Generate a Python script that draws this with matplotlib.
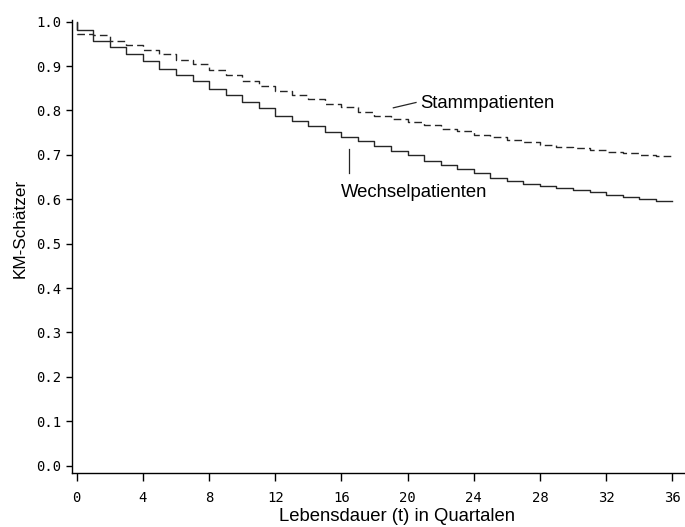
import matplotlib
matplotlib.use('Agg')
import matplotlib.pyplot as plt
import numpy as np

# Kaplan-Meier Schaetzer je Quartal (Stufen ab t = 0 .. 35)
quartale = np.arange(0, 37)
wechsel = [0.981, 0.957, 0.942, 0.927, 0.912, 0.894, 0.881, 0.866, 0.849, 0.834,
           0.818, 0.805, 0.788, 0.777, 0.766, 0.752, 0.741, 0.731, 0.721, 0.709,
           0.700, 0.687, 0.677, 0.668, 0.659, 0.649, 0.641, 0.635, 0.630, 0.626,
           0.621, 0.616, 0.610, 0.606, 0.601, 0.597]
stamm = [0.973, 0.969, 0.956, 0.948, 0.936, 0.927, 0.913, 0.905, 0.891, 0.881,
         0.867, 0.855, 0.844, 0.835, 0.825, 0.815, 0.807, 0.797, 0.788, 0.780,
         0.775, 0.767, 0.758, 0.754, 0.745, 0.740, 0.734, 0.730, 0.722, 0.718,
         0.715, 0.711, 0.706, 0.704, 0.700, 0.698]
xticks = np.arange(0, 37, 4)
yticks = np.round(np.arange(0, 1.01, 0.1), 1)

label_font = ['Liberation Sans', 'DejaVu Sans']
tick_font = 'DejaVu Sans Mono'


def km_stufen(werte):
    # Startpunkt 1.0 bei t=0, letzte Stufe bis t=36 fortsetzen
    x = np.concatenate([[0], quartale])
    y = np.concatenate([[1.0], werte, [werte[-1]]])
    return x, y


fig = plt.figure(figsize=(6.85, 5.27), dpi=100)
ax = fig.add_axes([72 / 685, 1 - 472.7 / 527, 1 - 72 / 685, (472.7 - 20) / 527])

x, y = km_stufen(stamm)
ax.step(x, y, where='post', color='#262626', lw=1.0, dashes=(5.5, 3))
x, y = km_stufen(wechsel)
ax.step(x, y, where='post', color='#262626', lw=1.0)

ax.set_xlim(-0.284, 36.77)
ax.set_ylim(-0.0158, 1.0038)

for side in ['top', 'right']:
    ax.spines[side].set_visible(False)
for side in ['left', 'bottom']:
    ax.spines[side].set_linewidth(1.0)

ax.set_xticks(xticks)
ax.set_xticklabels([str(t) for t in xticks], fontfamily=tick_font, fontsize=10)
ax.set_yticks(yticks)
ax.set_yticklabels(['%.1f' % v for v in yticks], fontfamily=tick_font, fontsize=10)
ax.tick_params(axis='x', length=6, width=1.0, pad=7.5)
ax.tick_params(axis='y', length=4.2, width=1.0, pad=3.2)

# Kurvenbeschriftungen
ax.plot([19.14, 20.51], [0.806, 0.818], color='#262626', lw=0.9)
ax.text(20.75, 0.805, 'Stammpatienten', fontsize=13.3, family=label_font,
        ha='left', va='baseline')
ax.plot([16.46, 16.46], [0.713, 0.659], color='#262626', lw=0.9)
ax.text(16.0, 0.605, 'Wechselpatienten', fontsize=13.3, family=label_font,
        ha='left', va='baseline')

fig.text(0.580, 1 - 521 / 527, 'Lebensdauer (t) in Quartalen', fontsize=13.3,
         family=label_font, ha='center', va='baseline')
fig.text(0.029, 1 - 228 / 527, 'KM-Schätzer', fontsize=12.3, family=label_font,
         rotation=90, ha='center', va='center')

fig.savefig('out.png', dpi=100)
